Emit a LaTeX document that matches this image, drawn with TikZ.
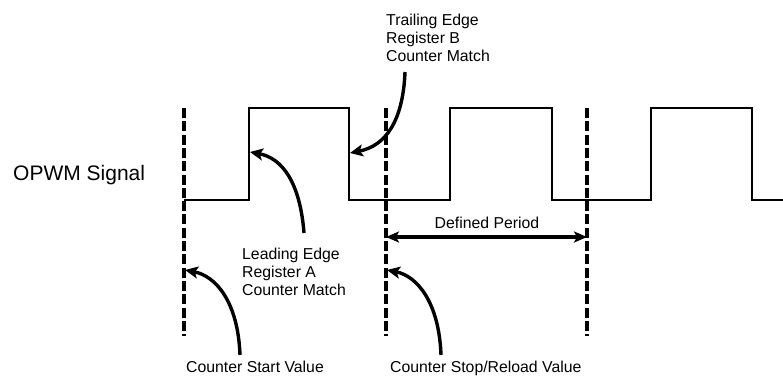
\documentclass[tikz,border=0pt]{standalone}
\usepackage{fontspec}
\setmainfont{Liberation Sans}
\usetikzlibrary{arrows.meta}
\begin{document}
\begin{tikzpicture}[x=1pt,y=-1pt,
  sig/.style={line width=1.8pt},
  guide/.style={line width=3.4pt,dash pattern=on 10pt off 3.3pt},
  pointer/.style={line width=3.4pt,-{Stealth[length=13pt,width=12pt,inset=3pt]}},
  span/.style={line width=3.4pt,{Stealth[length=13pt,width=11pt,inset=3pt]}-{Stealth[length=13pt,width=11pt,inset=3pt]}},
  lbl/.style={inner sep=0pt,font=\fontsize{15.8}{18.4}\selectfont,align=left},
  big/.style={inner sep=0pt,font=\fontsize{21}{24}\selectfont}]
\useasboundingbox (0,0) rectangle (783,376);
% guide lines
\coordinate (g1t) at (184,108); \coordinate (g1b) at (184,336);
\coordinate (g2t) at (386,108); \coordinate (g2b) at (386,336);
\coordinate (g3t) at (587,108); \coordinate (g3b) at (587,336);
\draw[guide] (g1t) -- (g1b);
\draw[guide] (g2t) -- (g2b);
\draw[guide,line width=3.2pt] (g3t) -- (g3b);
% signal
\coordinate (s0) at (184,200);
\coordinate (r1) at (249,108);
\coordinate (f1) at (349,108);
\coordinate (send) at (783,200);
\draw[sig] (s0) -- (249,200) -- (r1) -- (f1) -- (349,200) -- (450,200) -- (450,108)
  -- (552,108) -- (552,200) -- (651,200) -- (651,108) -- (752,108) -- (752,200) -- (send);
% texts
\node[big,anchor=base west] (sig) at (13,180) {OPWM Signal};
\node[lbl,anchor=north west] (trail) at (386,13.5) {Trailing Edge\\Register B\\Counter Match};
\node[lbl,anchor=north west] (lead) at (242,247.5) {Leading Edge\\Register A\\Counter Match};
\node[lbl,anchor=base west] (start) at (186,372) {Counter Start Value};
\node[lbl,anchor=base west] (stop) at (390,372) {Counter Stop/Reload Value};
\node[lbl,anchor=base] (per) at (487,228) {Defined Period};
% pointers
\coordinate (tt) at (350,153);
\coordinate (lt) at (250,152);
\coordinate (st) at (185,270);
\coordinate (pt) at (387,270);
\coordinate (p1) at (386,237); \coordinate (p2) at (587,237);
\draw[pointer] (405,72) .. controls (403,122) and (385,146) .. (tt);
\draw[pointer] (304,233) .. controls (300,182) and (282,158) .. (lt);
\draw[pointer] (240,355) .. controls (238,302) and (216,276) .. (st);
\draw[pointer] (441,355) .. controls (439,302) and (417,276) .. (pt);
\draw[span] (p1) -- (p2);
\end{tikzpicture}
\end{document}
